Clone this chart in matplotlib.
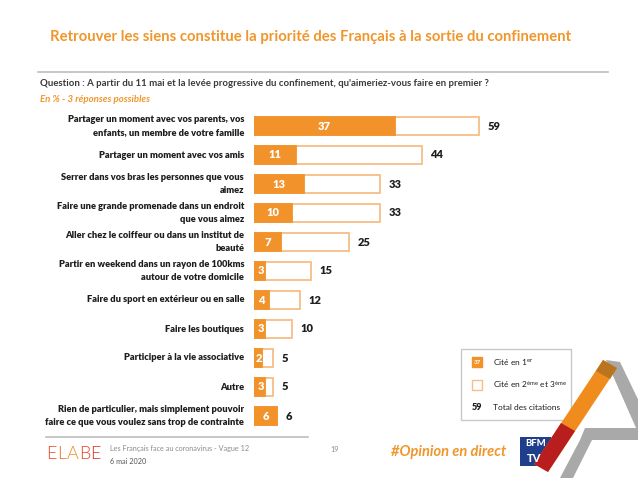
import matplotlib
import matplotlib.pyplot as plt
from matplotlib.patches import Rectangle, Polygon
from matplotlib.lines import Line2D

matplotlib.use('Agg')
plt.rcParams['font.family'] = ['Lato', 'DejaVu Sans']
plt.rcParams['mathtext.default'] = 'regular'

categories = [
    "Partager un moment avec vos parents, vos\nenfants, un membre de votre famille",
    "Partager un moment avec vos amis",
    "Serrer dans vos bras les personnes que vous\naimez",
    "Faire une grande promenade dans un endroit\nque vous aimez",
    "Aller chez le coiffeur ou dans un institut de\nbeauté",
    "Partir en weekend dans un rayon de 100kms\nautour de votre domicile",
    "Faire du sport en extérieur ou en salle",
    "Faire les boutiques",
    "Participer à la vie associative",
    "Autre",
    "Rien de particulier, mais simplement pouvoir\nfaire ce que vous voulez sans trop de contrainte",
]
first = [37, 11, 13, 10, 7, 3, 4, 3, 2, 3, 6]
total = [59, 44, 33, 33, 25, 15, 12, 10, 5, 5, 6]

ORANGE = '#F2922B'
EDGE = '#F7BE86'
DARK = '#1E1E1E'
W, H = 638, 478

fig = plt.figure(figsize=(6.38, 4.78), dpi=100)

def fx(px):
    return px / W

def fy(py):
    return 1 - py / H

# titles
fig.text(fx(50), fy(37), "Retrouver les siens constitue la priorité des Français à la sortie du confinement",
         color='#F0962B', fontsize=10.7, fontweight=700, va='center', ha='left')
fig.add_artist(Line2D([fx(38), fx(608)], [fy(72), fy(72)], color='#BDBDBD', lw=1.2))
fig.text(fx(40), fy(83), "Question : A partir du 11 mai et la levée progressive du confinement, qu'aimeriez-vous faire en premier ?",
         color='#3A3A3A', fontsize=6.9, fontweight=700, va='center', ha='left')
fig.text(fx(40), fy(99), "En % - 3 réponses possibles", color='#F0962B', fontsize=6.9,
         fontweight=700, style='italic', va='center', ha='left')

# bars
ax = fig.add_axes([fx(254), fy(430.5), 381 / W, 319 / H])
ax.set_xlim(0, 100)
ax.set_ylim(len(categories) - 0.5, -0.5)
ax.axis('off')

ypos = list(range(len(categories)))
ax.barh(ypos, total, height=0.62, color='white', edgecolor=EDGE, linewidth=1.3)
ax.barh(ypos, first, height=0.62, color=ORANGE, edgecolor=ORANGE, linewidth=1.3)
for y, f, t, lab in zip(ypos, first, total, categories):
    ax.text(f / 2 if f > 3 else f / 2 + 0.3, y, str(f), color='white', fontsize=8,
            fontweight=800, ha='center', va='center')
    ax.text(t + 2.3, y, str(t), color=DARK, fontsize=8, fontweight=800, ha='left', va='center')
    ax.text(-2.6, y, lab, color=DARK, fontsize=6.7, fontweight=800, ha='right', va='center',
            linespacing=1.5)

# legend box
fig.add_artist(Rectangle((fx(461), fy(420)), 110 / W, 71 / H, facecolor='white',
                         edgecolor='#C8C8C8', lw=1))
fig.add_artist(Rectangle((fx(472), fy(367)), 10 / W, 10 / H, facecolor=ORANGE, edgecolor=ORANGE))
fig.text(fx(477), fy(362), "37", color='white', fontsize=4.5, ha='center', va='center', fontweight='bold')
fig.text(fx(493), fy(362), "Cité en 1$^{er}$", color=DARK, fontsize=6, va='center')
fig.add_artist(Rectangle((fx(472), fy(390)), 10 / W, 10 / H, facecolor='white', edgecolor=EDGE, lw=1))
fig.text(fx(493), fy(385), "Cité en 2$^{ème}$ et 3$^{ème}$", color=DARK, fontsize=6, va='center')
fig.text(fx(477), fy(408), "59", color=DARK, fontsize=6.5, ha='center', va='center', fontweight=800)
fig.text(fx(493), fy(408), "Total des citations", color=DARK, fontsize=6, va='center')

# footer
fig.add_artist(Line2D([fx(46), fx(308)], [fy(437), fy(437)], color='#BDBDBD', lw=1.2))
logo_cols = ['#E8452A', '#EE6A25', '#F08C1E', '#E8452A', '#D92E2A']
logo_x = [46, 57, 67, 79, 90]
for ch, c, xl in zip("ELABE", logo_cols, logo_x):
    fig.text(fx(xl), fy(454), ch, color=c, fontsize=13, fontweight=300, va='center', ha='left')
fig.text(fx(110), fy(449), "Les Français face au coronavirus - Vague 12", color='#8C8C8C',
         fontsize=5.2, va='center')
fig.text(fx(110), fy(461), "6 mai 2020", color='#555555', fontsize=5.2, va='center')
fig.text(fx(335), fy(449), "19", color='#8C8C8C', fontsize=5.2, va='center', ha='center')
fig.text(fx(391), fy(452), "#Opinion en direct", color='#F0962B', fontsize=10.5,
         fontweight=700, style='italic', va='center')
fig.add_artist(Rectangle((fx(520), fy(466)), 31 / W, 29 / H, facecolor='#1F3E8C', edgecolor='none'))
fig.text(fx(535.5), fy(444), "BFM", color='white', fontsize=6.8, fontweight=900, ha='center', va='center')
fig.text(fx(534), fy(458), "TV", color='white', fontsize=8, fontweight=900, ha='center', va='center')

# decorative "A"
gray = '#A9A9A9'
fig.add_artist(Polygon([(fx(606), fy(360)), (fx(620), fy(362)), (fx(648), fy(420)), (fx(648), fy(455))],
                       closed=True, facecolor=gray, edgecolor='none'))
fig.add_artist(Polygon([(fx(585), fy(428)), (fx(648), fy(428)), (fx(648), fy(440)), (fx(580), fy(440))],
                       closed=True, facecolor=gray, edgecolor='none'))
fig.add_artist(Polygon([(fx(560), fy(478)), (fx(573), fy(478)), (fx(592), fy(440)), (fx(580), fy(440))],
                       closed=True, facecolor=gray, edgecolor='none'))
fig.add_artist(Polygon([(fx(534), fy(464)), (fx(548), fy(472)), (fx(617), fy(368)), (fx(603), fy(360))],
                       closed=True, facecolor='#F08C1E', edgecolor='none'))
fig.add_artist(Polygon([(fx(603), fy(360)), (fx(617), fy(368)), (fx(610), fy(379)), (fx(596), fy(371))],
                       closed=True, facecolor='#B8741E', edgecolor='none'))
fig.add_artist(Polygon([(fx(534), fy(464)), (fx(548), fy(472)), (fx(575), fy(431)), (fx(561), fy(423))],
                       closed=True, facecolor='#B81E1E', edgecolor='none'))

plt.savefig('out.png', dpi=100)
plt.close()
